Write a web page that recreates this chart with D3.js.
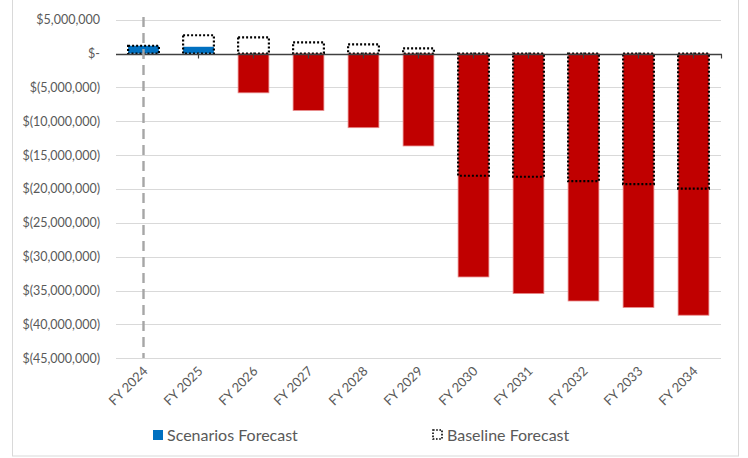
<!DOCTYPE html>
<html>
<head>
<meta charset="utf-8">
<script src="https://cdn.jsdelivr.net/npm/d3@7"></script>
<style>
  html, body { margin: 0; padding: 0; background: #fff; }
  svg { display: block; }
  text { font-family: Lato, "Noto Sans", sans-serif; }
</style>
</head>
<body>
<svg id="chart" width="748" height="458"></svg>
<script>
// Fiscal years shown on the category axis
const categories = ["FY 2024", "FY 2025", "FY 2026", "FY 2027", "FY 2028", "FY 2029",
                    "FY 2030", "FY 2031", "FY 2032", "FY 2033", "FY 2034"];
// Net position under the scenarios forecast (dollars)
const scenarioValues = [1150000, 1000000, -5800000, -8400000, -10950000, -13650000,
                        -33000000, -35450000, -36550000, -37500000, -38650000];
// Net position under the baseline forecast (dollars)
const baselineValues = [1150000, 2700000, 2400000, 1650000, 1350000, 750000,
                        -18050000, -18200000, -18850000, -19300000, -19950000];
// Value-axis ticks
const yTicks = [5000000, 0, -5000000, -10000000, -15000000, -20000000, -25000000,
                -30000000, -35000000, -40000000, -45000000];
const legendLabels = ["Scenarios Forecast", "Baseline Forecast"];

const svg = d3.select("#chart");

// Outer chart frame
svg.append("rect")
  .attr("x", 12.5).attr("y", -5).attr("width", 726).attr("height", 461)
  .attr("fill", "#fff").attr("stroke", "#d9d9d9").attr("stroke-width", 1);

const plot = { left: 116, right: 721 };

const x = d3.scaleBand().domain(categories).range([plot.left, plot.right]).paddingInner(0.44).paddingOuter(0.22);
const y = d3.scaleLinear().domain([-45000000, 5000000]).range([358.2, 19.7]);

const fmt = d3.format(",.0f");
const money = v => v === 0 ? "$-" : (v < 0 ? "$(" + fmt(-v) + ")" : "$" + fmt(v));

// Horizontal gridlines
svg.append("g").selectAll("line").data(yTicks.filter(v => v !== 0)).join("line")
  .attr("x1", plot.left).attr("x2", plot.right)
  .attr("y1", d => Math.round(y(d)) + 0.5).attr("y2", d => Math.round(y(d)) + 0.5)
  .attr("stroke", "#d9d9d9").attr("stroke-width", 1);

// Value-axis labels
const yAxis = d3.axisLeft(y).tickValues(yTicks).tickFormat(money).tickSize(0).tickPadding(0);
const yg = svg.append("g").attr("transform", "translate(100,0)").call(yAxis);
yg.select(".domain").remove();
yg.selectAll("text").attr("fill", "#595959").style("font-size", "12.5px")
  .style("font-family", "Lato, 'Noto Sans', sans-serif");

// Scenario bars: blue when positive, red when negative
svg.append("g").selectAll("rect").data(categories).join("rect")
  .attr("x", d => x(d))
  .attr("width", x.bandwidth())
  .attr("y", (d, i) => y(Math.max(0, scenarioValues[i])))
  .attr("height", (d, i) => Math.abs(y(scenarioValues[i]) - y(0)))
  .attr("fill", (d, i) => scenarioValues[i] >= 0 ? "#0070c0" : "#c00000")
  .attr("stroke", (d, i) => scenarioValues[i] >= 0 ? "none" : "#e88a8a")
  .attr("stroke-width", 0.8);

// Baseline outlines, dotted, drawn over the scenario bars
svg.append("g").selectAll("rect").data(categories).join("rect")
  .attr("x", d => x(d))
  .attr("width", x.bandwidth())
  .attr("y", (d, i) => y(Math.max(0, baselineValues[i])))
  .attr("height", (d, i) => Math.abs(y(baselineValues[i]) - y(0)))
  .attr("fill", "none")
  .attr("stroke", "#000")
  .attr("stroke-width", 2.2)
  .attr("stroke-dasharray", "2,2");

// Zero line with category ticks
const y0 = Math.round(y(0)) + 0.5;
const axisG = svg.append("g");
axisG.append("line")
  .attr("x1", plot.left).attr("x2", plot.right + 1)
  .attr("y1", y0).attr("y2", y0)
  .attr("stroke", "#404040").attr("stroke-width", 1.6);
axisG.selectAll("line.tick").data(categories).join("line").attr("class", "tick")
  .attr("x1", d => x(d) + x.bandwidth() / 2).attr("x2", d => x(d) + x.bandwidth() / 2)
  .attr("y1", y0 - 2).attr("y2", y0 + 4)
  .attr("stroke", "#404040").attr("stroke-width", 1.2);
axisG.append("line")
  .attr("x1", plot.right + 0.5).attr("x2", plot.right + 0.5)
  .attr("y1", y0).attr("y2", y0 + 4)
  .attr("stroke", "#404040").attr("stroke-width", 1.2);

// Vertical dashed marker at the first fiscal year
const cx0 = x(categories[0]) + x.bandwidth() / 2;
svg.append("line")
  .attr("x1", cx0).attr("x2", cx0)
  .attr("y1", 17).attr("y2", 358)
  .attr("stroke", "#a6a6a6").attr("stroke-width", 2.4)
  .attr("stroke-dasharray", "10,6");

// Rotated category labels
svg.append("g").selectAll("text").data(categories).join("text")
  .attr("transform", d => `translate(${x(d) + x.bandwidth() / 2 + 5},${372}) rotate(-45)`)
  .attr("text-anchor", "end")
  .attr("fill", "#595959")
  .style("font-size", "13px")
  .text(d => d);

// Legend
const lg = svg.append("g");
lg.append("rect").attr("x", 153).attr("y", 430).attr("width", 10).attr("height", 10).attr("fill", "#0070c0");
lg.append("text").attr("x", 167).attr("y", 441).attr("fill", "#595959").style("font-size", "16px").text(legendLabels[0]);
lg.append("rect").attr("x", 433).attr("y", 430).attr("width", 9).attr("height", 9)
  .attr("fill", "none").attr("stroke", "#000").attr("stroke-width", 1.6).attr("stroke-dasharray", "1.6,1.6");
lg.append("text").attr("x", 447).attr("y", 441).attr("fill", "#595959").style("font-size", "16px").text(legendLabels[1]);
</script>
</body>
</html>
